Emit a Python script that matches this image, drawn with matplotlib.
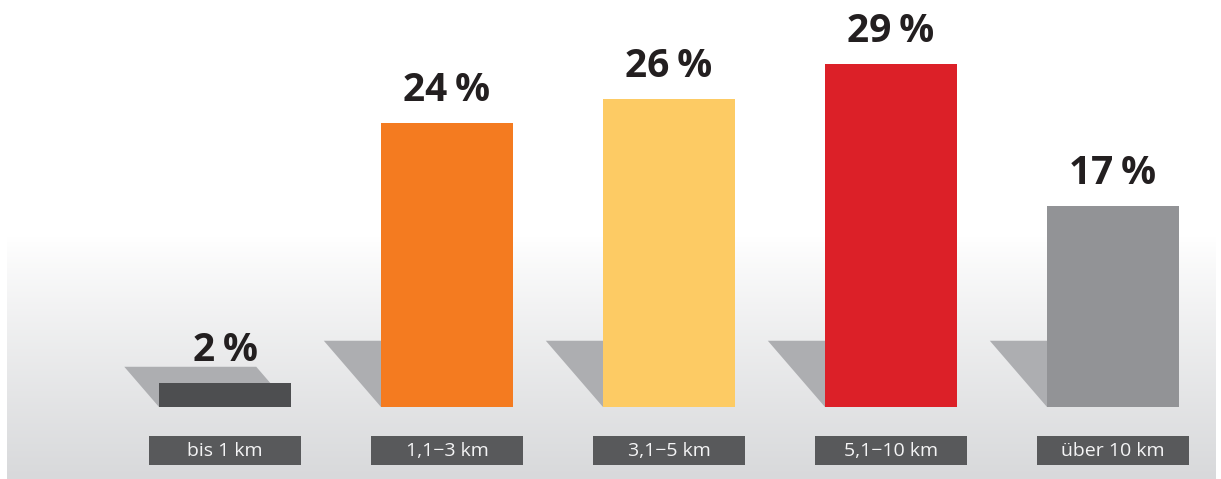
import numpy as np
import matplotlib.pyplot as plt
from matplotlib.patches import Rectangle, Polygon

plt.rcParams['font.family'] = ['Open Sans', 'DejaVu Sans']

categories = ['bis 1 km', '1,1\u22123 km', '3,1\u22125 km',
              '5,1\u221210 km', '\u00fcber 10 km']
values = [2, 24, 26, 29, 17]
colors = ['#4d4e50', '#f47b20', '#fdcb64', '#dc2028', '#929396']

W, H = 1221, 479
px_x = 222.0      # pixels per category
px_y = 11.83      # pixels per percent
x0_px, y0_px = 225, 407   # pixel of category 0 / baseline (from top)

fig = plt.figure(figsize=(W / 100, H / 100), dpi=100)
ax = fig.add_axes([0, 0, 1, 1])
ax.set_xlim(-x0_px / px_x, (W - x0_px) / px_x)
ax.set_ylim(-(H - y0_px) / px_y, y0_px / px_y)
ax.axis('off')

# background gradient (white -> light grey)
grad = np.linspace(0, 1, 256).reshape(-1, 1)
top = np.array([1.0, 1.0, 1.0])
bot = np.array([216, 217, 219]) / 255
img = top + (bot - top) * grad[:, :, None] ** 0.9
ax.imshow(img, aspect='auto', transform=ax.transAxes,
          extent=[7 / W, 1216 / W, 0, (H - 237) / H], zorder=0)

bw = 132 / px_x
lw = 152 / px_x
slope = 0.046

for i, (cat, v, c) in enumerate(zip(categories, values, colors)):
    left, right = i - bw / 2, i + bw / 2
    hs = min(v + 1.4, 5.6)
    dx = hs * slope
    ax.add_patch(Polygon([(left, 0), (right, 0), (right - dx, hs), (left - dx, hs)],
                         closed=True, facecolor='#adaeb1', edgecolor='none', zorder=1))
    ax.bar(i, v, width=bw, color=c, zorder=2)
    ax.text(i, v + 1.86, f'{v}\u2009%', ha='center', va='baseline',
            fontsize=28, fontweight='bold', color='#231f20', zorder=3)
    ax.add_patch(Rectangle((i - lw / 2, -(465 - y0_px) / px_y), lw, 29 / px_y,
                           facecolor='#58595b', edgecolor='none', zorder=2))
    ax.text(i, -(450.5 - y0_px) / px_y, cat, ha='center', va='center',
            fontsize=14, color='#f4f4f5', zorder=3)

fig.savefig('out.png', dpi=100)
